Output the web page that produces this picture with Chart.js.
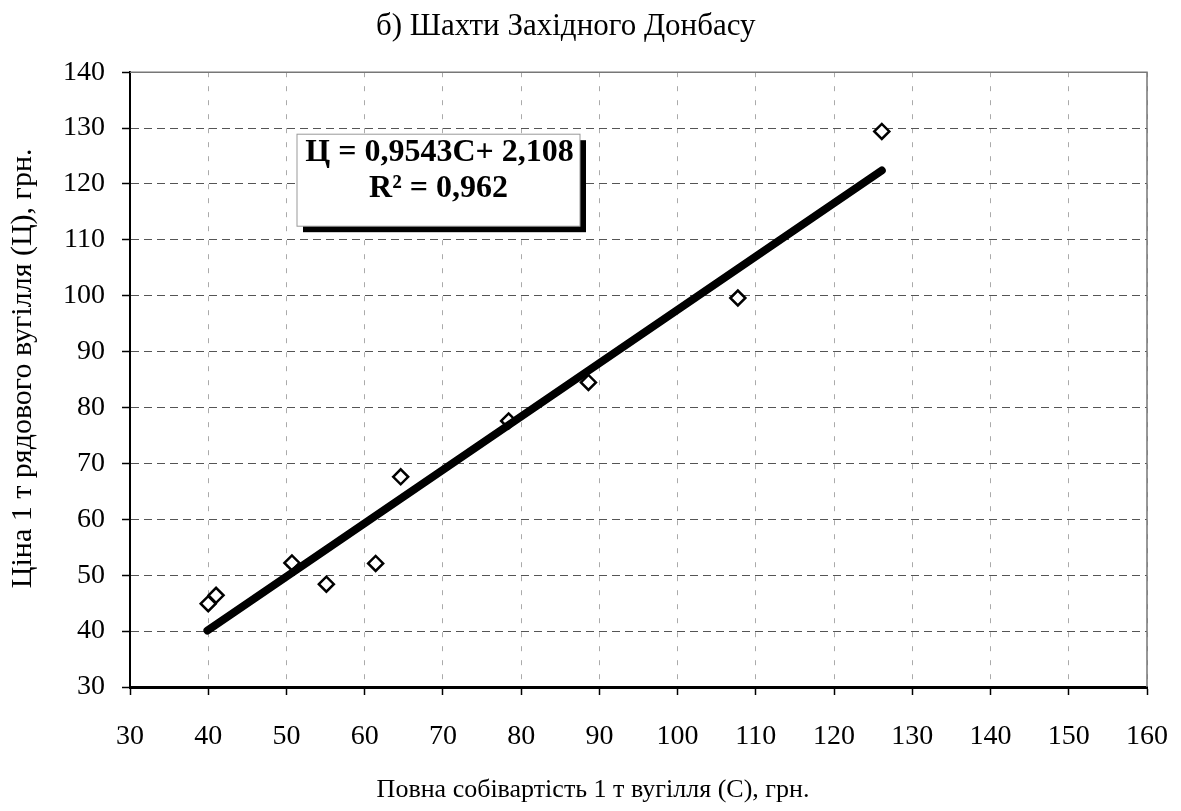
<!DOCTYPE html>
<html>
<head>
<meta charset="utf-8">
<script src="https://cdn.jsdelivr.net/npm/chart.js@4/dist/chart.umd.min.js"></script>
<style>
  body { margin: 0; background: #fff; }
  #wrap { width: 1181px; height: 811px; }
</style>
</head>
<body>
<div id="wrap"><canvas id="mineChart"></canvas></div>
<script>
// data
const costC = [40.0, 41.0, 50.7, 55.1, 61.4, 64.6, 78.4, 88.6, 107.7, 126.1];
const priceP = [44.9, 46.4, 52.2, 48.4, 52.1, 67.6, 77.6, 84.5, 99.6, 129.4];
const trendX = [39.9, 126.1];
const trendY = [40.1, 122.4];
const equationLines = ["Ц = 0,9543C+ 2,108", "R² = 0,962"];

const FONT = "'Liberation Serif', 'Times New Roman', serif";
const NBSP = "\u00a0";

const points = costC.map((c, i) => ({ x: c, y: priceP[i] }));
const trend = trendX.map((x, i) => ({ x: x, y: trendY[i] }));

// thin frame on top / right of the plot
const framePlugin = {
    id: "frame",
    beforeDatasetsDraw(chart) {
        const { ctx, chartArea: a } = chart;
        ctx.save();
        ctx.strokeStyle = "#777";
        ctx.lineWidth = 1.5;
        ctx.beginPath();
        ctx.moveTo(a.left, a.top);
        ctx.lineTo(a.right, a.top);
        ctx.lineTo(a.right, a.bottom);
        ctx.stroke();
        ctx.restore();
    }
};

// equation box with shadow
const eqPlugin = {
    id: "eqBox",
    afterDatasetsDraw(chart) {
        const { ctx, chartArea: a } = chart;
        const x0 = a.left + 167, y0 = a.top + 62;
        const w = 283, h = 92;
        ctx.save();
        ctx.fillStyle = "#000";
        ctx.fillRect(x0 + 6, y0 + 6, w, h);
        ctx.fillStyle = "#fff";
        ctx.fillRect(x0, y0, w, h);
        ctx.strokeStyle = "#999";
        ctx.lineWidth = 1;
        ctx.strokeRect(x0, y0, w, h);
        ctx.fillStyle = "#000";
        ctx.font = "bold 32px " + FONT;
        ctx.textAlign = "center";
        ctx.textBaseline = "middle";
        ctx.fillText(equationLines[0], x0 + w / 2 + 1, y0 + 19);
        ctx.fillText(equationLines[1], x0 + w / 2, y0 + 55);
        ctx.restore();
    }
};

const ctx = document.getElementById("mineChart").getContext("2d");
const chart = new Chart(ctx, {
    type: "scatter",
    data: {
        datasets: [
            {
                label: "trend",
                data: trend,
                showLine: true,
                borderColor: "#000",
                borderWidth: 8,
                borderCapStyle: "round",
                pointRadius: 0,
                fill: false
            },
            {
                label: "mines",
                data: points,
                pointStyle: "rectRot",
                pointRadius: 7.5,
                pointBorderWidth: 2.5,
                pointBackgroundColor: "#fff",
                pointBorderColor: "#000",
                showLine: false
            }
        ]
    },
    options: {
        responsive: true,
        maintainAspectRatio: false,
        animation: false,
        layout: { padding: { left: 0, right: 34, top: 0, bottom: 0 } },
        plugins: {
            legend: { display: false },
            tooltip: { enabled: false },
            title: {
                display: true,
                text: "б) Шахти Західного Донбасу" + NBSP.repeat(2),
                color: "#000",
                font: { family: FONT, size: 31, weight: "normal" },
                padding: { top: 8, bottom: 27 }
            }
        },
        scales: {
            x: {
                type: "linear",
                min: 30,
                max: 160,
                ticks: {
                    stepSize: 10,
                    color: "#000",
                    padding: 0,
                    maxRotation: 0,
                    font: { family: FONT, size: 28, lineHeight: 2.95 }
                },
                grid: {
                    color: "#aaa",
                    lineWidth: 1,
                    tickColor: "#000",
                    tickLength: 8,
                    tickWidth: 1.5
                },
                border: { display: true, color: "#000", width: 3, dash: [5, 9] },
                title: {
                    display: true,
                    text: "Повна собівартість 1 т вугілля (С), грн." + NBSP.repeat(14),
                    color: "#000",
                    font: { family: FONT, size: 26 },
                    padding: { top: 0, bottom: 5 }
                },
                afterFit(scale) { scale.height = 124; }
            },
            y: {
                type: "linear",
                min: 30,
                max: 140,
                ticks: {
                    stepSize: 10,
                    color: "#000",
                    padding: 17,
                    font: { family: FONT, size: 28 }
                },
                grid: {
                    color: "#555",
                    lineWidth: 1,
                    tickColor: "#000",
                    tickLength: 8,
                    tickWidth: 1.5
                },
                border: { display: true, color: "#000", width: 2, dash: [8, 5] },
                title: {
                    display: true,
                    text: NBSP.repeat(3) + "Ціна 1 т рядового вугілля (Ц), грн.",
                    color: "#000",
                    font: { family: FONT, size: 30 },
                    padding: { top: 5, bottom: 0 }
                },
                afterFit(scale) { scale.width = 130; }
            }
        }
    },
    plugins: [framePlugin, eqPlugin]
});
</script>
</body>
</html>
